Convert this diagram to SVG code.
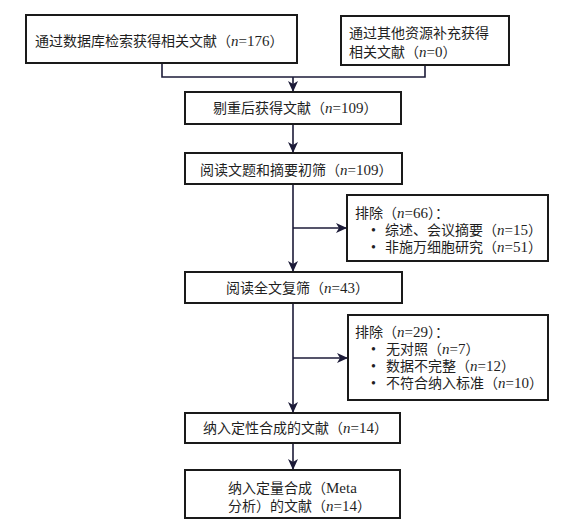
<svg xmlns="http://www.w3.org/2000/svg" width="577" height="527" viewBox="0 0 577 527">
<style>
.box{fill:#fff;stroke:#1a1a1a;stroke-width:2}
.t{font-family:"Liberation Serif","Noto Sans CJK SC",serif;font-size:14px;fill:#1f1f1f}
.i{font-style:italic}
.l{font-size:15px}
.c{fill:none;stroke:#1c1b38;stroke-width:1.6}
</style>
<defs>
<marker id="ah" markerWidth="12" markerHeight="10" refX="10" refY="5" orient="auto" markerUnits="userSpaceOnUse">
<path d="M0,0 L11,5 L0,10 L3,5 z" fill="#1c1b38"/>
</marker>
</defs>
<rect width="577" height="527" fill="#fff"/>
<g id="connectors">
<path class="c" d="M162,63 V77 H425 V65"/>
<path class="c" d="M293,77 V91" marker-end="url(#ah)"/>
<path class="c" d="M293,124 V152" marker-end="url(#ah)"/>
<path class="c" d="M293,184 V271" marker-end="url(#ah)"/>
<path class="c" d="M293,228 H346" marker-end="url(#ah)"/>
<path class="c" d="M293,303 V412" marker-end="url(#ah)"/>
<path class="c" d="M293,358 H347" marker-end="url(#ah)"/>
<path class="c" d="M293,443 V469" marker-end="url(#ah)"/>
</g>
<g id="n1"><rect class="box" x="26" y="15" width="271" height="48"/>
<text class="t" x="35" y="46">通过数据库检索获得相关文献（<tspan class="l"><tspan class="i">n</tspan>=176</tspan>）</text></g>
<g id="n2"><rect class="box" x="341" y="16" width="168" height="49"/>
<text class="t" x="349" y="38">通过其他资源补充获得</text>
<text class="t" x="349" y="57">相关文献（<tspan class="l"><tspan class="i">n</tspan>=0</tspan>）</text></g>
<g id="n3"><rect class="box" x="185" y="92" width="216" height="32"/>
<text class="t" x="213" y="113">剔重后获得文献（<tspan class="l"><tspan class="i">n</tspan>=109</tspan>）</text></g>
<g id="n4"><rect class="box" x="185" y="153" width="217" height="31"/>
<text class="t" x="200" y="175">阅读文题和摘要初筛（<tspan class="l"><tspan class="i">n</tspan>=109</tspan>）</text></g>
<g id="n5"><rect class="box" x="347" y="195" width="201" height="66"/>
<text class="t" x="355" y="218">排除（<tspan class="l"><tspan class="i">n</tspan>=66</tspan>）：</text>
<text class="t" x="371" y="235">•</text><text class="t" x="385" y="235">综述、会议摘要（<tspan class="l"><tspan class="i">n</tspan>=15</tspan>）</text>
<text class="t" x="371" y="252">•</text><text class="t" x="385" y="252">非施万细胞研究（<tspan class="l"><tspan class="i">n</tspan>=51</tspan>）</text></g>
<g id="n6"><rect class="box" x="185" y="272" width="217" height="31"/>
<text class="t" x="226" y="293">阅读全文复筛（<tspan class="l"><tspan class="i">n</tspan>=43</tspan>）</text></g>
<g id="n7"><rect class="box" x="348" y="315" width="200" height="85"/>
<text class="t" x="355" y="337">排除（<tspan class="l"><tspan class="i">n</tspan>=29</tspan>）：</text>
<text class="t" x="371" y="354">•</text><text class="t" x="386" y="354">无对照（<tspan class="l"><tspan class="i">n</tspan>=7</tspan>）</text>
<text class="t" x="371" y="371">•</text><text class="t" x="386" y="371">数据不完整（<tspan class="l"><tspan class="i">n</tspan>=12</tspan>）</text>
<text class="t" x="371" y="388">•</text><text class="t" x="386" y="388">不符合纳入标准（<tspan class="l"><tspan class="i">n</tspan>=10</tspan>）</text></g>
<g id="n8"><rect class="box" x="185" y="413" width="215" height="30"/>
<text class="t" x="203" y="433">纳入定性合成的文献（<tspan class="l"><tspan class="i">n</tspan>=14</tspan>）</text></g>
<g id="n9"><rect class="box" x="185" y="470" width="215" height="48"/>
<text class="t" x="228" y="493">纳入定量合成（<tspan class="l">Meta</tspan></text>
<text class="t" x="228" y="511">分析）的文献（<tspan class="l"><tspan class="i">n</tspan>=14</tspan>）</text></g>
</svg>
